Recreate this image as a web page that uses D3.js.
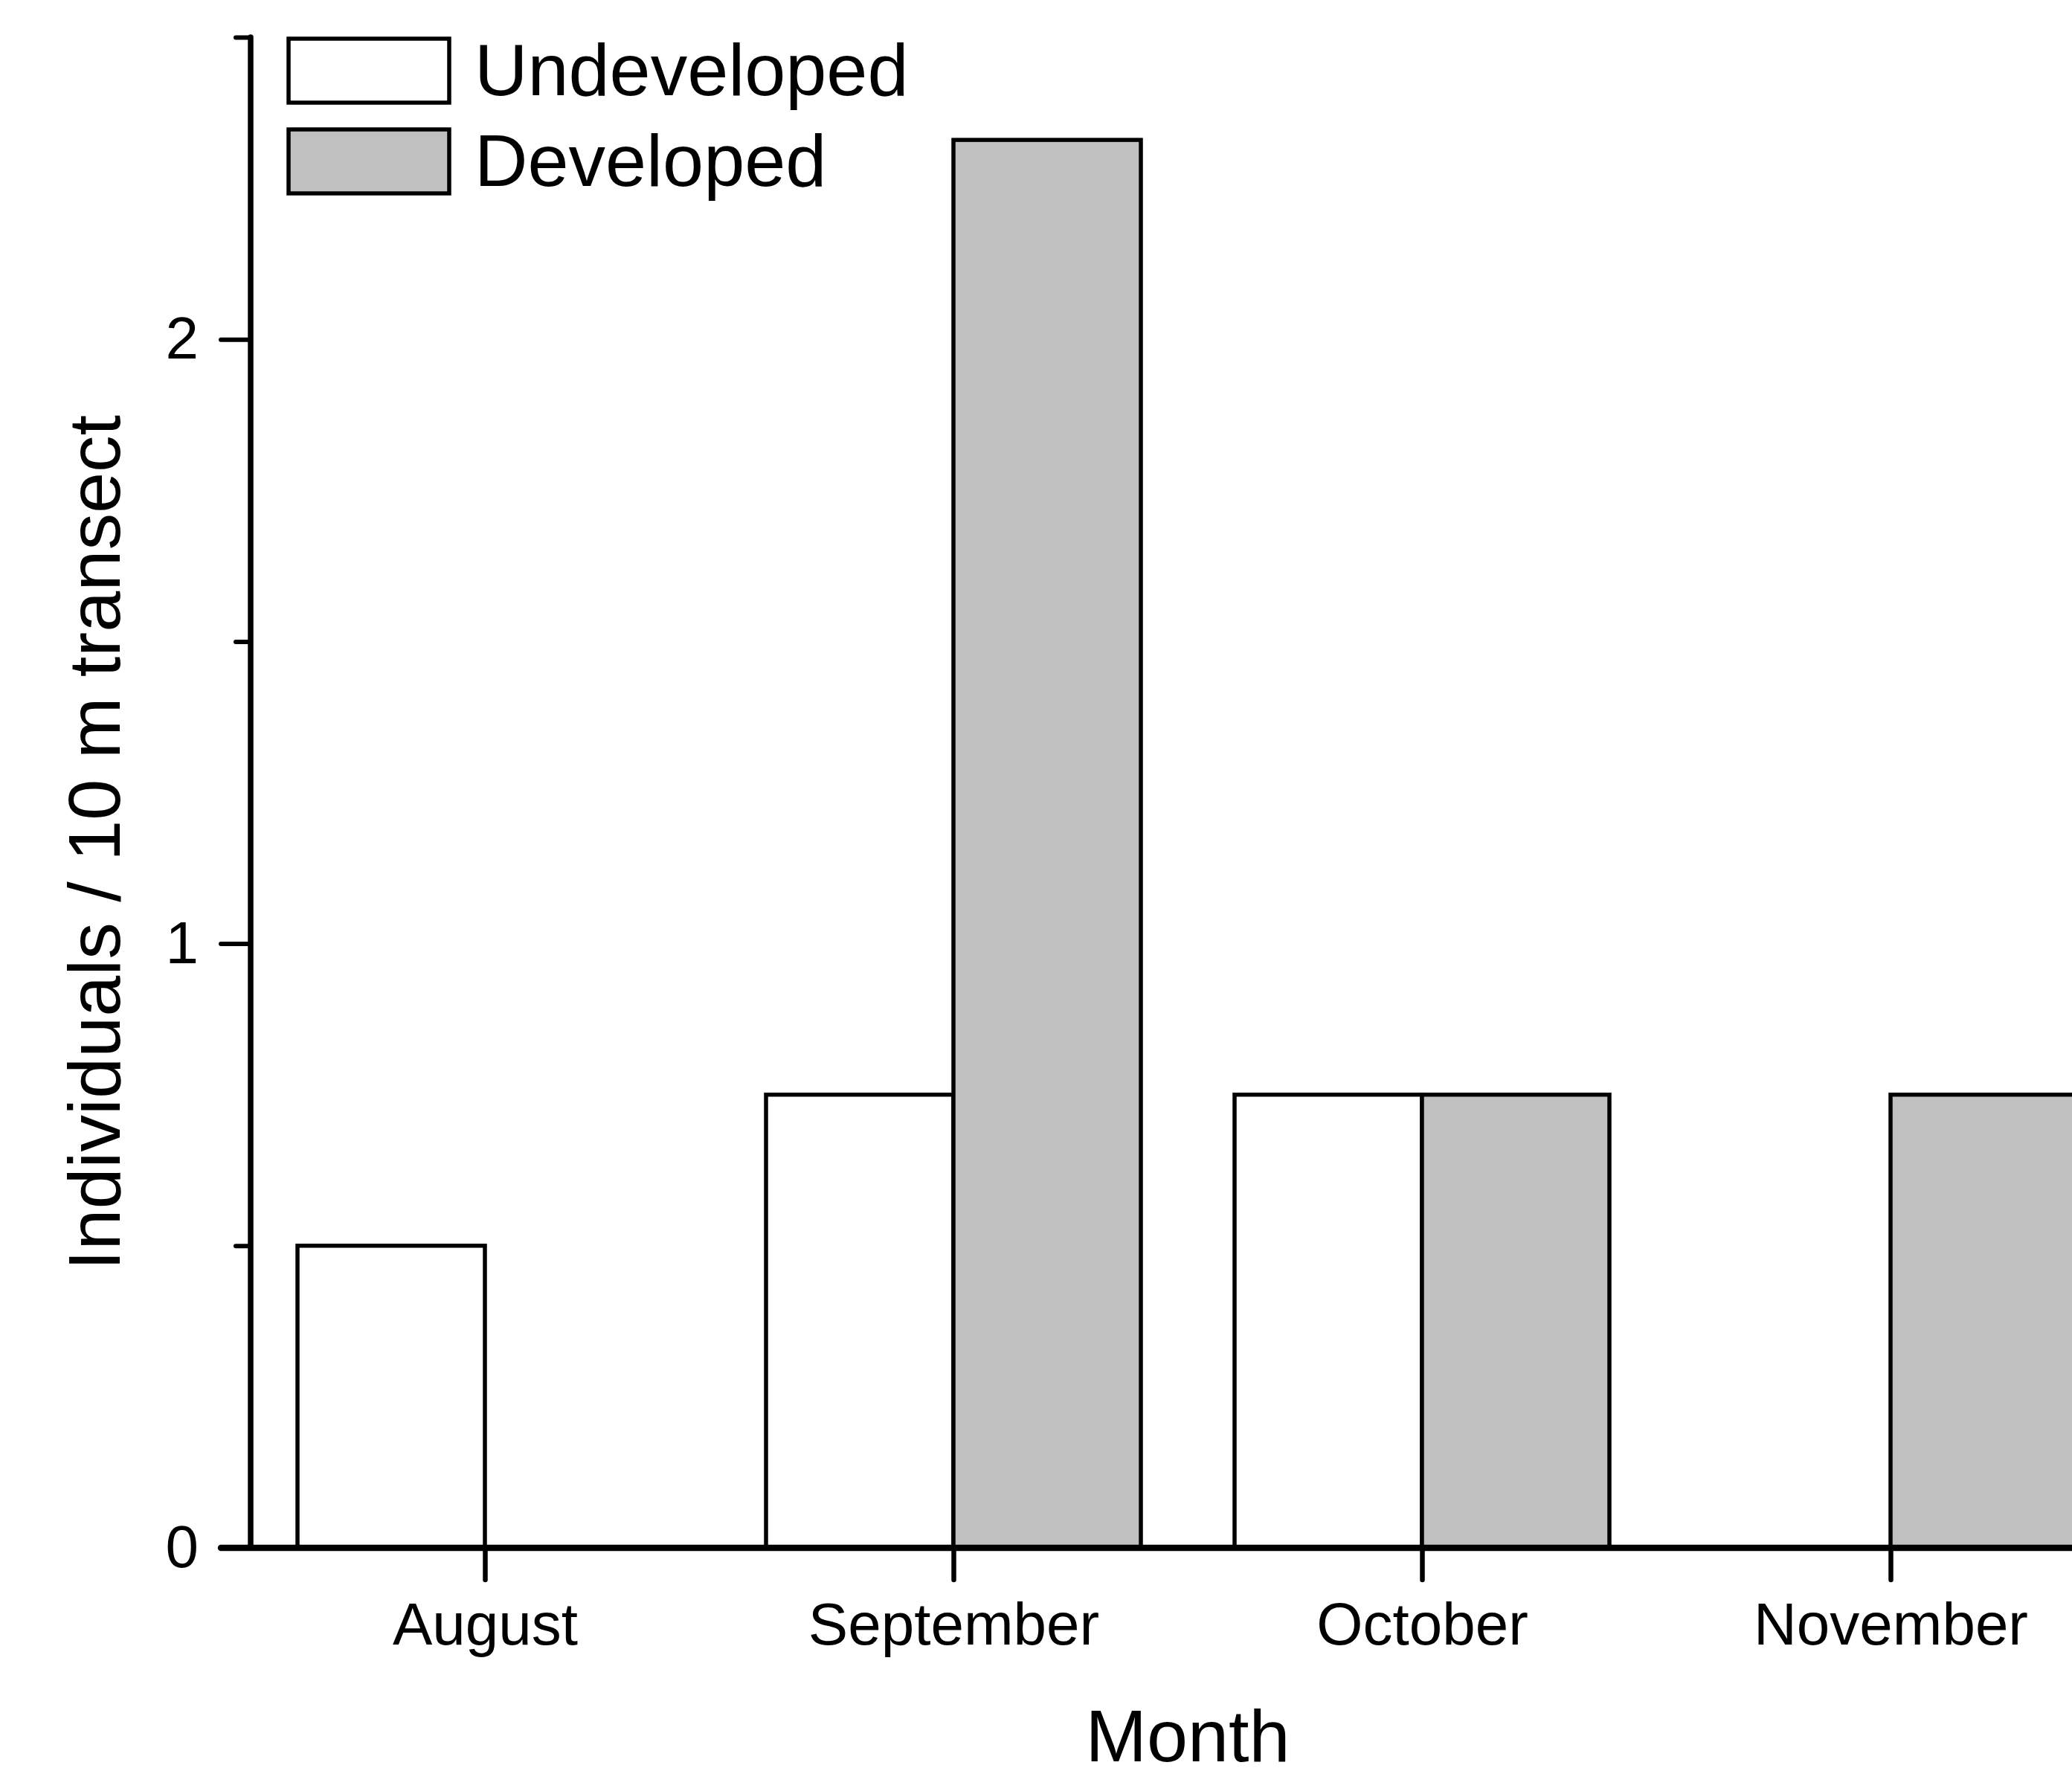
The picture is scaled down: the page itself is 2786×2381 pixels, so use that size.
<!DOCTYPE html>
<html>
<head>
<meta charset="utf-8">
<script src="https://cdn.jsdelivr.net/npm/d3@7"></script>
<style>
  html, body { margin: 0; padding: 0; background: #fff; }
  svg { display: block; font-family: "Liberation Sans", Arial, sans-serif; }
</style>
</head>
<body>
<svg id="chart" width="2786" height="2381"></svg>
<script>
// Monthly density of individuals per 10 m transect, by habitat type
const months = ["August", "September", "October", "November"];
const undeveloped = [0.5, 0.75, 0.75, 0];
const developed = [0, 2.33, 0.75, 0.75];
const seriesNames = ["Undeveloped", "Developed"];
const seriesFills = ["#ffffff", "#c0c0c0"];
const yMajorTicks = [0, 1, 2];
const yMinorTicks = [0.5, 1.5, 2.5];

const svg = d3.select("#chart");

// Category index scale: months sit at 1..4, axis starts at 0.5
const x = d3.scaleLinear().domain([0.5, 4.5]).range([337, 2857]);
const y = d3.scaleLinear().domain([0, 2.5]).range([2081, 50]);
const barW = x(1.4) - x(1);

// Bars: undeveloped to the left of the month tick, developed to the right
const rows = months.map((m, i) => ({ i: i + 1, u: undeveloped[i], d: developed[i] }));
const bars = svg.append("g");
[["u", -1], ["d", 0]].forEach(([key, off], s) => {
  bars.selectAll(null)
    .data(rows.filter(r => r[key] > 0))
    .join("rect")
    .attr("x", r => x(r.i) + off * barW)
    .attr("width", barW)
    .attr("y", r => y(r[key]))
    .attr("height", r => y(0) - y(r[key]))
    .attr("fill", seriesFills[s])
    .attr("stroke", "#000")
    .attr("stroke-width", 5.5);
});

// Y axis: major ticks with labels, minor ticks without
const yMajor = d3.axisLeft(y).tickValues(yMajorTicks).tickSize(40).tickSizeOuter(0)
  .tickPadding(30).tickFormat(d3.format("d"));
const yMinor = d3.axisLeft(y).tickValues(yMinorTicks).tickSize(20).tickSizeOuter(0)
  .tickFormat("");
const gyMinor = svg.append("g").attr("transform", `translate(${x(0.5)},0)`).call(yMinor);
const gyMajor = svg.append("g").attr("transform", `translate(${x(0.5)},0)`).call(yMajor);
[gyMinor, gyMajor].forEach(g => {
  g.select(".domain").remove();
  g.selectAll(".tick line").attr("stroke", "#000").attr("stroke-width", 6).attr("stroke-linecap", "round");
});
gyMajor.selectAll(".tick text").attr("fill", "#000").style("font-size", "80px");

// X axis
const xAxis = d3.axisBottom(x).tickValues([1, 2, 3, 4]).tickSize(43).tickSizeOuter(0)
  .tickPadding(30).tickFormat(d => months[d - 1]);
const gx = svg.append("g").attr("transform", `translate(0,${y(0)})`).call(xAxis);
gx.select(".domain").remove();
gx.selectAll(".tick line").attr("stroke", "#000").attr("stroke-width", 6.5).attr("stroke-linecap", "round");
gx.selectAll(".tick text").attr("fill", "#000").style("font-size", "80px");

// Axis lines (x line extends left past the y axis, like a zero tick)
svg.append("line")
  .attr("x1", x(0.5)).attr("x2", x(0.5))
  .attr("y1", y(2.5)).attr("y2", y(0))
  .attr("stroke", "#000").attr("stroke-width", 7.5).attr("stroke-linecap", "round");
svg.append("line")
  .attr("x1", x(0.5) - 40).attr("x2", x(4.5))
  .attr("y1", y(0)).attr("y2", y(0))
  .attr("stroke", "#000").attr("stroke-width", 8.5).attr("stroke-linecap", "round");

// Axis titles
svg.append("text")
  .attr("x", (x(0.5) + x(4.5)) / 2).attr("y", 2368)
  .attr("text-anchor", "middle")
  .style("font-size", "99px")
  .text("Month");
svg.append("text")
  .attr("transform", `translate(161,1133) rotate(-90)`)
  .attr("text-anchor", "middle")
  .style("font-size", "99px")
  .text("Individuals / 10 m transect");

// Legend
const legend = svg.append("g");
seriesNames.forEach((name, k) => {
  const top = 52 + k * 122;
  legend.append("rect")
    .attr("x", 388).attr("y", top).attr("width", 216).attr("height", 86)
    .attr("fill", seriesFills[k]).attr("stroke", "#000").attr("stroke-width", 5.5);
  legend.append("text")
    .attr("x", 638).attr("y", top + 76)
    .style("font-size", "99px")
    .text(name);
});
</script>
</body>
</html>
